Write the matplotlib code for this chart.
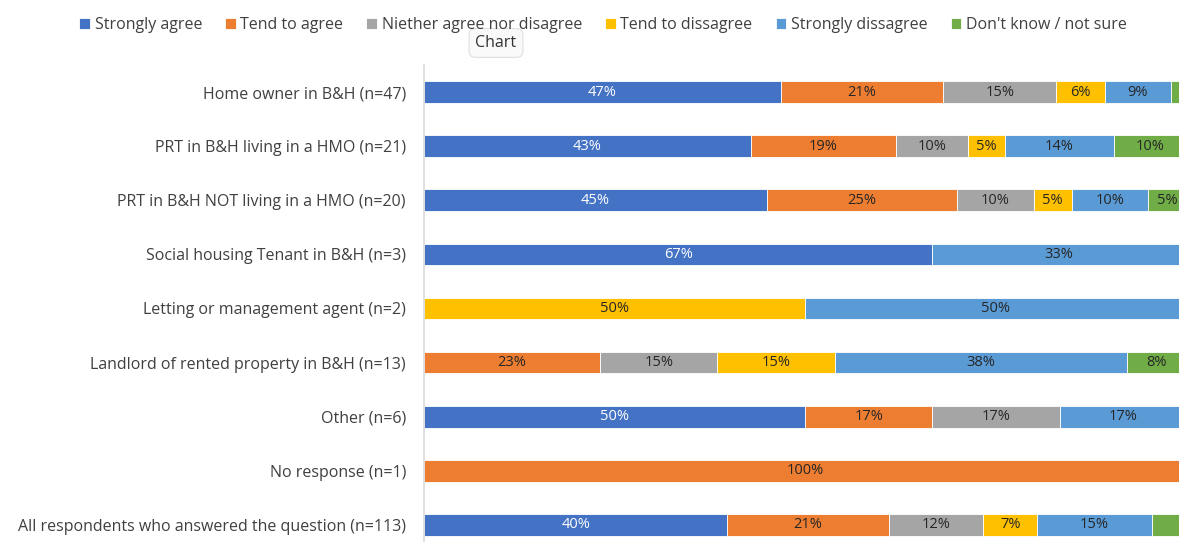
import matplotlib
matplotlib.use("Agg")
import matplotlib.pyplot as plt
import numpy as np
import math

categories = [
    "Home owner in B&H (n=47)",
    "PRT in B&H living in a HMO (n=21)",
    "PRT in B&H NOT living in a HMO (n=20)",
    "Social housing Tenant in B&H (n=3)",
    "Letting or management agent (n=2)",
    "Landlord of rented property in B&H (n=13)",
    "Other (n=6)",
    "No response (n=1)",
    "All respondents who answered the question (n=113)",
]
series_names = ["Strongly agree", "Tend to agree", "Niether agree nor disagree",
                "Tend to dissagree", "Strongly dissagree", "Don't know / not sure"]
strongly_agree    = [46.8, 42.9, 45.0, 66.7, 0.0, 0.0, 50.0, 0.0, 39.8]
tend_to_agree     = [21.3, 19.0, 25.0, 0.0, 0.0, 23.1, 16.7, 100.0, 21.2]
neither           = [14.9, 9.5, 10.0, 0.0, 0.0, 15.4, 16.7, 0.0, 12.4]
tend_to_disagree  = [6.4, 4.8, 5.0, 0.0, 50.0, 15.4, 0.0, 0.0, 7.1]
strongly_disagree = [8.6, 14.3, 10.0, 33.3, 50.0, 38.4, 16.7, 0.0, 15.0]
dont_know         = [2.1, 9.5, 5.0, 0.0, 0.0, 7.7, 0.0, 0.0, 4.4]
series = [strongly_agree, tend_to_agree, neither, tend_to_disagree, strongly_disagree, dont_know]
colors = ["#4472C4", "#ED7D31", "#A5A5A5", "#FFC000", "#5B9BD5", "#70AD47"]
label_colors = ["white", "#262626", "#262626", "#262626", "#262626", "#262626"]

plt.rcParams['font.family'] = ['Open Sans', 'DejaVu Sans']

W, H = 1179, 542
fig = plt.figure(figsize=(W / 100, H / 100), dpi=100)
ax_left, ax_right = 424, 1186
ax_top, ax_bottom = 65, 552
ax = fig.add_axes([ax_left / W, (H - ax_bottom) / H, (ax_right - ax_left) / W, (ax_bottom - ax_top) / H])

y = np.arange(len(categories))
left = np.zeros(len(categories))
handles = []
for vals, name, col, lc in zip(series, series_names, colors, label_colors):
    vals = np.array(vals)
    b = ax.barh(y, vals, left=left, height=0.4, color=col, edgecolor="white", linewidth=0.6, label=name)
    handles.append(b)
    for yi, (l, v) in enumerate(zip(left, vals)):
        if v >= 4.5:
            ax.text(l + v / 2, yi, f"{math.floor(v + 0.5)}%", ha="center", va="center",
                    fontsize=10.5, color=lc)
    left = left + vals

ax.set_xlim(0, 100)
ax.set_ylim(len(categories) - 0.5, -0.5)
ax.set_yticks(y)
ax.set_yticklabels(categories, fontsize=11.5, color="#404040")
ax.tick_params(axis="y", length=0, pad=13)
ax.set_xticks([])
for s in ["top", "right", "bottom"]:
    ax.spines[s].set_visible(False)
ax.spines["left"].set_color("#D9D9D9")
ax.spines["left"].set_linewidth(1.2)

fig.legend(handles=handles, labels=series_names, loc="center", bbox_to_anchor=(603 / W, 1 - 25 / H),
           ncol=6, frameon=False, fontsize=11.5, handlelength=0.65, handleheight=0.65,
           handletextpad=0.3, columnspacing=1.45, labelcolor="#404040")

fig.text(496 / W, 1 - 43 / H, "Chart", ha="center", va="center", fontsize=11.5, color="#333333",
         bbox=dict(boxstyle="round,pad=0.4", facecolor="#F9F9F9", edgecolor="#E0E0E0", linewidth=0.8))

fig.savefig("out.png", dpi=100)
